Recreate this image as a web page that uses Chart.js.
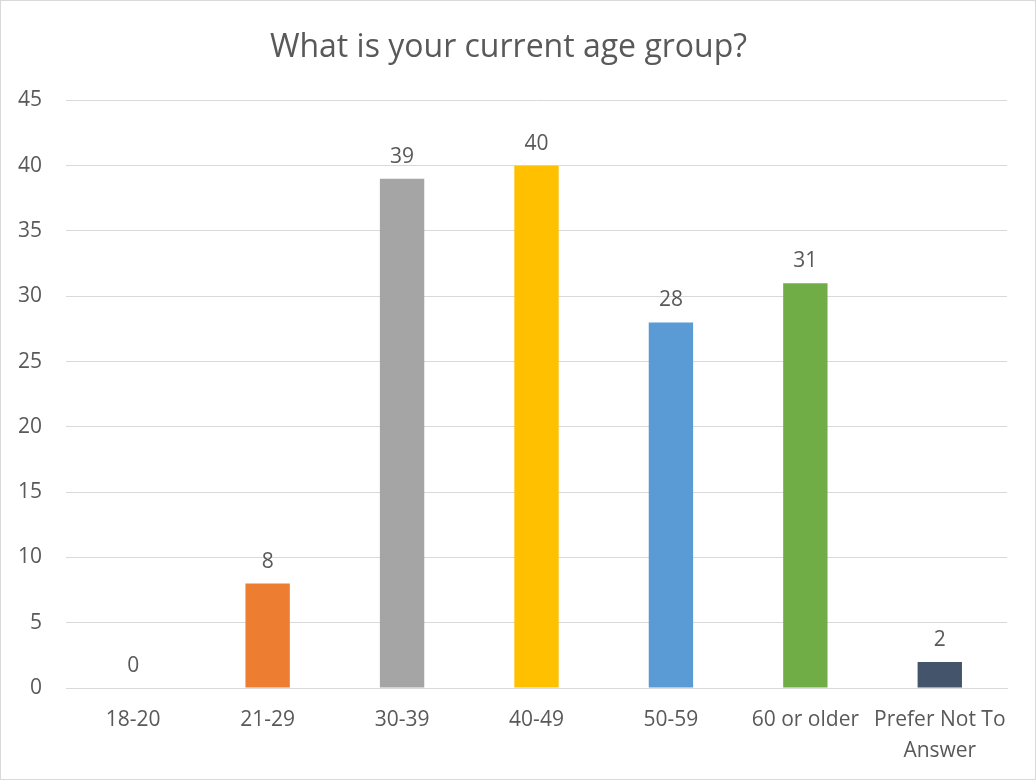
<!DOCTYPE html>
<html>
<head>
<meta charset="utf-8">
<script src="https://cdn.jsdelivr.net/npm/chart.js@4"></script>
<style>
    html, body { margin: 0; padding: 0; background: #fff; }
    #wrap {
        position: absolute; left: 0; top: 0;
        width: 1036px; height: 780px;
        box-sizing: border-box;
        border: 1px solid #d9d9d9;
    }
</style>
</head>
<body>
<div id="wrap"><canvas id="ageChart"></canvas></div>
<script>
const titleText = "What is your current age group?";
const ageGroups = ["18-20", "21-29", "30-39", "40-49", "50-59", "60 or older", ["Prefer Not To", "Answer"]];
const responses = [0, 8, 39, 40, 28, 31, 2];
const barColors = ["#4472C4", "#ED7D31", "#A5A5A5", "#FFC000", "#5B9BD5", "#70AD47", "#44546A"];
const yMin = 0;
const yMax = 45;
const yStep = 5;

const textColor = "#595959";
const fontFamily = "'Open Sans', sans-serif";

// draws the value above each bar, like Excel data labels
const valueLabels = {
    id: "valueLabels",
    afterDatasetsDraw(chart) {
        const ctx = chart.ctx;
        ctx.save();
        ctx.font = `21px ${fontFamily}`;
        ctx.fillStyle = textColor;
        ctx.textAlign = "center";
        ctx.textBaseline = "alphabetic";
        chart.getDatasetMeta(0).data.forEach((bar, i) => {
            ctx.fillText(String(responses[i]), bar.x, bar.y - 16);
        });
        ctx.restore();
    }
};

new Chart(document.getElementById("ageChart"), {
    type: "bar",
    data: {
        labels: ageGroups,
        datasets: [{
            data: responses,
            backgroundColor: barColors,
            borderWidth: 0,
            barPercentage: 0.33,
            categoryPercentage: 1
        }]
    },
    options: {
        responsive: true,
        maintainAspectRatio: false,
        animation: false,
        layout: { padding: { left: 9, right: 28, top: 0, bottom: 10 } },
        plugins: {
            legend: { display: false },
            tooltip: { enabled: false },
            title: {
                display: true,
                text: titleText,
                color: textColor,
                font: { family: fontFamily, size: 32, weight: "normal" },
                padding: { top: 28, bottom: 33 }
            }
        },
        scales: {
            x: {
                grid: { display: false, drawTicks: false },
                border: { display: true, color: "#d9d9d9", width: 1 },
                ticks: {
                    color: textColor,
                    font: { family: fontFamily, size: 21, lineHeight: 1.45 },
                    padding: 17,
                    maxRotation: 0,
                    autoSkip: false
                },
                afterFit(scale) { scale.height = 81; }
            },
            y: {
                min: yMin,
                max: yMax,
                grid: { color: "#d9d9d9", drawTicks: false },
                border: { display: false },
                ticks: {
                    stepSize: yStep,
                    color: textColor,
                    font: { family: fontFamily, size: 21 },
                    padding: 24
                },
                afterFit(scale) { scale.width = 56; }
            }
        }
    },
    plugins: [valueLabels]
});
</script>
</body>
</html>
